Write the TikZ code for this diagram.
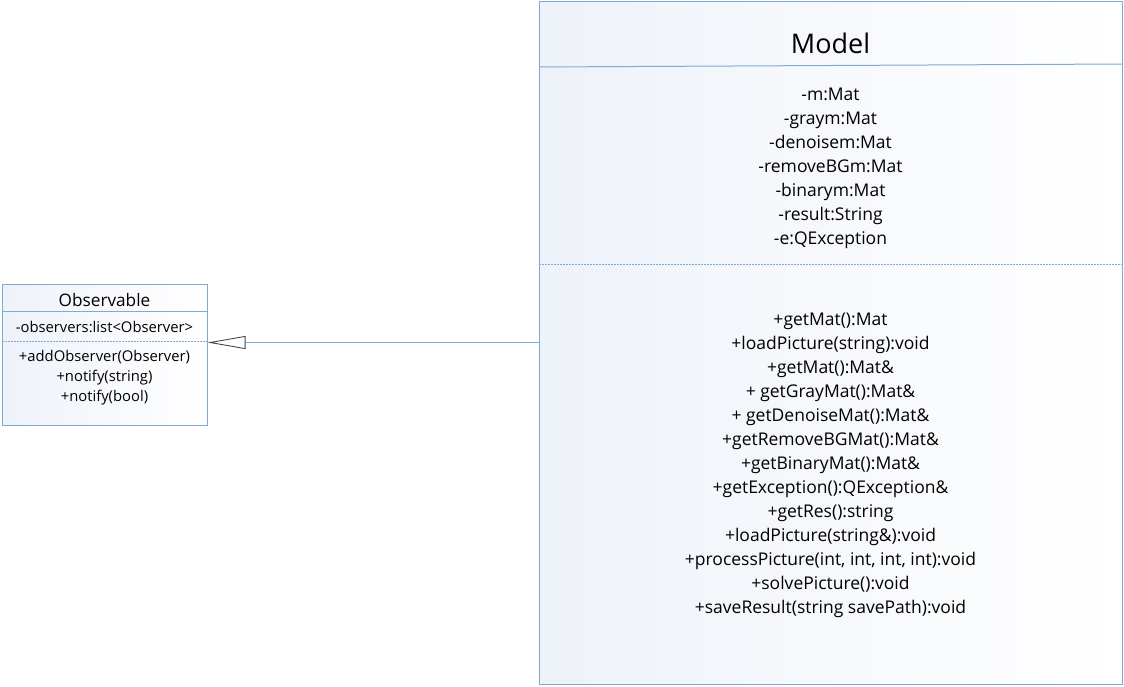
\documentclass[tikz,border=0pt]{standalone}
\usepackage{fontspec}
\setmainfont{Open Sans}
\usetikzlibrary{arrows.meta}
\definecolor{umlborder}{RGB}{126,170,214}
\definecolor{umlfill}{RGB}{238,242,249}
\definecolor{tipgray}{RGB}{70,70,70}
\tikzset{
  classbox/.style={draw=umlborder, line width=1pt, shade, shading angle=135,
    left color=umlfill, right color=white, inner sep=0pt},
  sepline/.style={draw=umlborder, line width=1pt},
  dotline/.style={draw=umlborder, line width=1pt, dash pattern=on 1.5pt off 1.5pt},
  bigtext/.style={font=\fontsize{17.5}{24}\selectfont, align=center, inner sep=0pt},
  smalltext/.style={font=\fontsize{14.8}{20}\selectfont, align=center, inner sep=0pt},
  gen/.style={draw=umlborder, line width=1.4pt,
    -{Triangle[open, length=38pt, width=13pt, color=tipgray, line width=0.9pt]}},
}
\begin{document}
\begin{tikzpicture}[x=1pt,y=-1pt]
\useasboundingbox (0,0) rectangle (1124,686);
% Model class
\node[classbox, minimum width=583pt, minimum height=683pt] (model) at (830.5,342.5) {};
\draw[sepline] (539,67) -- (1122,64);
\draw[dotline] (539,264) -- (1122,264);
\node[font=\fontsize{27}{32}\selectfont, inner sep=0pt] (modeltitle) at (830.5,43) {Model};
\node[bigtext] (modelattr) at (830.5,168) {-m:Mat\\-graym:Mat\\-denoisem:Mat\\-removeBGm:Mat\\-binarym:Mat\\-result:String\\-e:QException};
\node[bigtext] (modelops) at (830.5,465) {+getMat():Mat\\+loadPicture(string):void\\+getMat():Mat\&\\+ getGrayMat():Mat\&\\+ getDenoiseMat():Mat\&\\+getRemoveBGMat():Mat\&\\+getBinaryMat():Mat\&\\+getException():QException\&\\+getRes():string\\+loadPicture(string\&):void\\+processPicture(int, int, int, int):void\\+solvePicture():void\\+saveResult(string savePath):void};
% Observable class
\node[classbox, minimum width=205pt, minimum height=141pt] (obs) at (104.5,354.5) {};
\draw[sepline] (2,311) -- (207,311);
\draw[dotline] (2,341) -- (207,341);
\node[font=\fontsize{17.2}{20}\selectfont, inner sep=0pt] (obstitle) at (104.5,300) {Observable};
\node[smalltext] (obsattr) at (104.5,327) {-observers:list<Observer>};
\node[smalltext] (obsops) at (104.5,378) {+addObserver(Observer)\\+notify(string)\\+notify(bool)};
% generalization
\draw[gen] (model.west) -- (obs.east |- model.west);
\end{tikzpicture}
\end{document}
